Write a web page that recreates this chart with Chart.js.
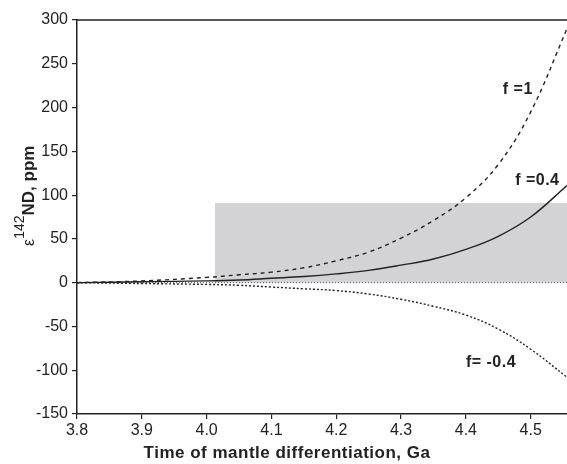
<!DOCTYPE html>
<html lang="en">
<head>
  <meta charset="UTF-8" />
  <title>epsilon 142Nd vs time of mantle differentiation</title>
  <script src="https://cdn.jsdelivr.net/npm/chart.js"></script>
  <style>
    html, body { margin: 0; padding: 0; background: #fff; }
    .chart-box { width: 567px; height: 464px; }
  </style>
</head>
<body>
  <div class="chart-box">
    <canvas id="ndChart" width="567" height="464"></canvas>
  </div>
  <script>
    // values
    const times = [3.8, 3.9, 4.0, 4.05, 4.1, 4.15, 4.2, 4.25, 4.3, 4.35, 4.4, 4.45, 4.5, 4.556];
    const fPlus1 = [0, 2, 6, 9, 12, 17, 25, 35, 51, 71, 97, 135, 195, 290];
    const fPlus04 = [0, 1, 2, 3, 5, 7, 10, 14, 20, 27, 38, 53, 75, 111];
    const fMinus04 = [0, -1, -2, -3, -5, -7, -9, -13, -19, -27, -37, -53, -76, -108];
    const zeroX = [3.8, 4.556];
    const zeroY = [0, 0];
    const boxX = [4.013, 4.556];
    const boxTop = [91, 91];
    const xTicks = [3.8, 3.9, 4.0, 4.1, 4.2, 4.3, 4.4, 4.5];
    const yTicks = [-150, -100, -50, 0, 50, 100, 150, 200, 250, 300];
    const curveLabels = [
      { text: 'f =1', x: 4.457, y: 216 },
      { text: 'f =0.4', x: 4.476, y: 111 },
      { text: 'f= -0.4', x: 4.4, y: -96 }
    ];

    const pts = (xs, ys) => xs.map((x, i) => ({ x: x, y: ys[i] }));
    const ink = '#222';
    const font = "'Liberation Sans', Arial, sans-serif";

    const extras = {
      id: 'extras',
      afterDraw(chart) {
        const { ctx, chartArea, scales } = chart;
        ctx.save();
        // top frame line
        ctx.strokeStyle = ink;
        ctx.lineWidth = 1.5;
        ctx.beginPath();
        ctx.moveTo(chartArea.left, chartArea.top);
        ctx.lineTo(chartArea.right, chartArea.top);
        ctx.stroke();

        // curve labels
        ctx.fillStyle = ink;
        ctx.font = 'bold 16px ' + font;
        ctx.letterSpacing = '0.5px';
        ctx.textBaseline = 'alphabetic';
        curveLabels.forEach(l => {
          ctx.fillText(l.text, scales.x.getPixelForValue(l.x), scales.y.getPixelForValue(l.y));
        });

        // x title
        ctx.font = 'bold 17px ' + font;
        ctx.letterSpacing = '0.5px';
        ctx.textAlign = 'center';
        ctx.fillText('Time of mantle differentiation, Ga', 287, 458);

        // y title with superscript
        ctx.letterSpacing = '0px';
        ctx.translate(34, 246);
        ctx.rotate(-Math.PI / 2);
        ctx.textAlign = 'left';
        ctx.font = '16px ' + font;
        ctx.fillText('\u03b5', 0, 0);
        let w = ctx.measureText('\u03b5').width;
        ctx.font = '14px ' + font;
        ctx.fillText('142', w, -10);
        w += ctx.measureText('142').width;
        ctx.font = 'bold 17px ' + font;
        ctx.fillText('ND, ppm', w, 0);
        ctx.restore();
      }
    };

    new Chart(document.getElementById('ndChart'), {
      type: 'line',
      data: {
        datasets: [
          {
            data: pts(times, fPlus1),
            borderColor: ink, borderWidth: 1.4, borderDash: [4, 4],
            pointRadius: 0, tension: 0.4, fill: false
          },
          {
            data: pts(times, fPlus04),
            borderColor: ink, borderWidth: 1.4,
            pointRadius: 0, tension: 0.4, fill: false
          },
          {
            data: pts(times, fMinus04),
            borderColor: ink, borderWidth: 1.4, borderDash: [2, 2],
            pointRadius: 0, tension: 0.4, fill: false
          },
          {
            data: pts(zeroX, zeroY),
            borderColor: '#555', borderWidth: 1, borderDash: [1, 2],
            pointRadius: 0, fill: false
          },
          {
            data: pts(boxX, boxTop),
            borderWidth: 0, borderColor: 'rgba(0,0,0,0)',
            backgroundColor: '#d3d3d5',
            pointRadius: 0, fill: 'origin'
          }
        ]
      },
      options: {
        responsive: false,
        animation: false,
        layout: { padding: { top: 20, right: 0, left: 0, bottom: 0 } },
        plugins: { legend: { display: false }, tooltip: { enabled: false } },
        scales: {
          x: {
            type: 'linear',
            min: 3.8,
            max: 4.556,
            afterFit(scale) { scale.height = 50; },
            afterBuildTicks(scale) { scale.ticks = xTicks.map(v => ({ value: v })); },
            ticks: {
              color: ink,
              font: { family: font, size: 16 },
              padding: 2,
              maxRotation: 0,
              callback: v => v.toFixed(1)
            },
            grid: { drawOnChartArea: false, drawTicks: true, tickLength: 5, color: ink, lineWidth: 1.2 },
            border: { display: true, color: ink, width: 1.5 }
          },
          y: {
            min: -150,
            max: 300,
            afterFit(scale) { scale.width = 77; },
            afterBuildTicks(scale) { scale.ticks = yTicks.map(v => ({ value: v })); },
            ticks: {
              color: ink,
              font: { family: font, size: 16 },
              padding: 4
            },
            grid: { drawOnChartArea: false, drawTicks: true, tickLength: 5, color: ink, lineWidth: 1.2 },
            border: { display: true, color: ink, width: 1.5 }
          }
        }
      },
      plugins: [extras]
    });
  </script>
</body>
</html>
